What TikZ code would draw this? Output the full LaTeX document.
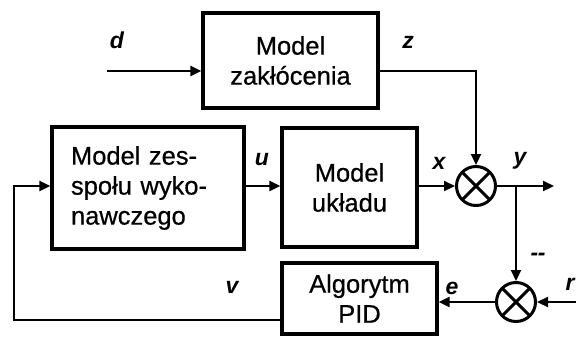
\documentclass[tikz,border=0pt]{standalone}
\usepackage{fontspec}
\setmainfont{Liberation Sans}
\newfontfamily\boxfont[FakeBold=0.6]{Liberation Sans}
\usetikzlibrary{arrows.meta}
\begin{document}
\begin{tikzpicture}[x=1pt,y=-1pt,
  blockbox/.style={draw, line width=3.2pt, align=center, inner sep=0pt,
    font=\boxfont\fontsize{25.5}{30}\selectfont},
  sumnode/.style={draw, circle, line width=3pt, minimum size=39pt, inner sep=0pt,
    path picture={\draw[line width=3pt]
      (path picture bounding box.north west) -- (path picture bounding box.south east)
      (path picture bounding box.north east) -- (path picture bounding box.south west);}},
  conn/.style={line width=2.2pt, -{Triangle[length=11pt,width=10pt]}},
  lbl/.style={font=\fontsize{23}{24}\selectfont\bfseries\itshape, inner sep=0pt}
]
\useasboundingbox (0,0) rectangle (576,338);

% blocks
\node[blockbox, minimum width=175pt, minimum height=95pt] (dist) at (290.5,60.5) {Model\\zakłócenia};
\node[blockbox, minimum width=192pt, minimum height=122pt, text width=154pt, align=left] (act) at (148,188) {Model zes-\\społu wyko-\\nawczego};
\node[blockbox, minimum width=135pt, minimum height=119pt] (plant) at (349.5,187.5) {Model\\układu};
\node[blockbox, minimum width=155pt, minimum height=71pt] (pid) at (359.5,298.5) {Algorytm\\PID};

% summing junctions
\node[sumnode] (s1) at (476,186) {};
\node[sumnode] (s2) at (516,302) {};

% free ends and corners
\coordinate (din) at (107,71);
\coordinate (zc) at (476,71);
\coordinate (yout) at (554,186);
\coordinate (br) at (516,186);
\coordinate (rin) at (576,302);
\coordinate (fb1) at (14,320);
\coordinate (fb2) at (14,186);

% connectors
\draw[conn] (din) -- (din -| dist.west);
\draw[conn] (zc -| dist.east) -- (zc) -- (s1.north);
\draw[conn] (act.east |- br) -- (plant.west |- br);
\draw[conn] (plant.east |- s1) -- (s1.west);
\draw[conn] (s1.east) -- (yout);
\draw[conn] (br) -- (s2.north);
\draw[conn] (rin) -- (s2.east);
\draw[conn] (s2.west) -- (pid.east |- s2);
\draw[conn] (pid.west |- fb1) -- (fb1) -- (fb2) -- (act.west |- fb2);

% labels
\node[lbl] (ld) at (117,40) {d};
\node[lbl] (lz) at (408,42) {z};
\node[lbl] (lu) at (262,160) {u};
\node[lbl] (lx) at (439,163) {x};
\node[lbl] (ly) at (520,161) {y};
\node[lbl] (lv) at (232,287) {v};
\node[lbl] (le) at (452,288) {e};
\node[lbl] (lr) at (570,284) {r};
\node[lbl] (lm) at (538,257) {-\kern-0.5pt-};
\end{tikzpicture}
\end{document}
